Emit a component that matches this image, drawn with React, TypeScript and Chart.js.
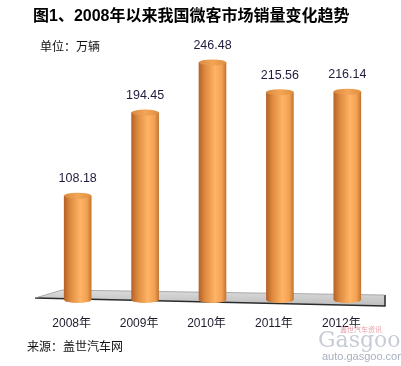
import React, { useEffect, useRef } from "react";
import { Chart, registerables } from "chart.js";

Chart.register(...registerables);

const categories = ["2008年", "2009年", "2010年", "2011年", "2012年"];
const sales = [108.18, 194.45, 246.48, 215.56, 216.14];
const valueLabels = ["108.18", "194.45", "246.48", "215.56", "216.14"];
const yMin = 0;
const yMax = 250;

const TITLE = "图1、2008年以来我国微客市场销量变化趋势";
const UNIT = "单位：万辆";
const SOURCE = "来源：盖世汽车网";

const LATIN_CJK = '"Liberation Sans", Arial, "Noto Sans CJK SC", sans-serif';

function barGradient(ctx: CanvasRenderingContext2D, x: number, w: number) {
  const g = ctx.createLinearGradient(x - w / 2, 0, x + w / 2, 0);
  g.addColorStop(0, "#b5622a");
  g.addColorStop(0.22, "#dd8a3e");
  g.addColorStop(0.6, "#ffb466");
  g.addColorStop(0.85, "#f2a052");
  g.addColorStop(1, "#c47632");
  return g;
}

const cylinderPlugin = {
  id: "cylinder",
  beforeDatasetsDraw(chart: any) {
    const { ctx, chartArea } = chart;
    const l = chartArea.left;
    const r = chartArea.right;
    const b = chartArea.bottom;
    ctx.save();
    const g = ctx.createLinearGradient(0, b - 10, 0, b + 6);
    g.addColorStop(0, "#dcdcdc");
    g.addColorStop(1, "#bdbdbd");
    ctx.beginPath();
    ctx.moveTo(l - 9, b - 2);
    ctx.lineTo(l + 18, b - 10);
    ctx.lineTo(r + 4, b - 5);
    ctx.lineTo(r + 4, b + 6);
    ctx.closePath();
    ctx.fillStyle = g;
    ctx.fill();
    ctx.beginPath();
    ctx.moveTo(l - 9, b - 2);
    ctx.lineTo(r + 4, b + 6);
    ctx.lineTo(r + 4, b - 5);
    ctx.strokeStyle = "#2a2a2a";
    ctx.lineWidth = 1.5;
    ctx.stroke();
    ctx.beginPath();
    ctx.moveTo(l - 9, b - 2);
    ctx.lineTo(l + 18, b - 10);
    ctx.lineTo(r + 4, b - 5);
    ctx.strokeStyle = "#9a9a9a";
    ctx.lineWidth = 0.8;
    ctx.stroke();
    ctx.restore();
  },
  afterDatasetsDraw(chart: any) {
    const { ctx } = chart;
    const meta = chart.getDatasetMeta(0);
    ctx.save();
    meta.data.forEach((el: any, i: number) => {
      const { x, y, base, width } = el.getProps(["x", "y", "base", "width"], true);
      if (![x, y, base, width].every((v) => Number.isFinite(v))) return;
      const rx = width / 2;
      ctx.beginPath();
      ctx.ellipse(x, base, rx, 3, 0, 0, Math.PI);
      ctx.fillStyle = barGradient(ctx, x, width);
      ctx.fill();
      const cg = ctx.createLinearGradient(x - rx, 0, x + rx, 0);
      cg.addColorStop(0, "#d88a40");
      cg.addColorStop(0.5, "#f3a456");
      cg.addColorStop(1, "#e0903f");
      ctx.beginPath();
      ctx.ellipse(x, y, rx, 3, 0, 0, Math.PI * 2);
      ctx.fillStyle = cg;
      ctx.fill();
      ctx.fillStyle = "#1e1c3c";
      ctx.font = "12.5px " + LATIN_CJK;
      ctx.textAlign = "center";
      ctx.textBaseline = "middle";
      ctx.fillText(valueLabels[i], x, y - 17);
    });
    ctx.restore();
  },
};

export default function App() {
  const ref = useRef<HTMLCanvasElement | null>(null);

  useEffect(() => {
    if (!ref.current) return;
    const chart = new Chart(ref.current, {
      type: "bar",
      data: {
        labels: categories,
        datasets: [
          {
            data: sales,
            barThickness: 27,
            borderWidth: 0,
            backgroundColor: (c: any) => {
              const ch = c.chart;
              const xs = ch.scales && ch.scales.x;
              if (!xs || c.dataIndex === undefined) return "#f0a050";
              const x = xs.getPixelForValue(c.dataIndex);
              if (!Number.isFinite(x)) return "#f0a050";
              return barGradient(ch.ctx, x, 27);
            },
          },
        ],
      },
      options: {
        responsive: false,
        animation: false,
        devicePixelRatio: 1,
        layout: { padding: { left: 44, right: 20, top: 59, bottom: 36 } },
        plugins: {
          legend: { display: false },
          tooltip: { enabled: false },
          title: { display: false },
        },
        scales: {
          y: { display: false, min: yMin, max: yMax },
          x: {
            grid: { display: false, drawTicks: false },
            border: { display: false },
            ticks: {
              color: "#1c1c2c",
              font: { size: 12, family: LATIN_CJK },
              padding: 16,
              labelOffset: -6,
            },
            afterFit: (s: any) => {
              s.height = 30;
            },
          },
        },
      },
      plugins: [cylinderPlugin],
    });
    return () => chart.destroy();
  }, []);

  const cjk = LATIN_CJK;

  return (
    <div
      style={{
        position: "absolute",
        left: 0,
        top: 0,
        width: 401,
        height: 366,
        background: "#ffffff",
        overflow: "hidden",
      }}
    >
      <canvas ref={ref} width={401} height={366} style={{ position: "absolute", left: 0, top: 0, width: 401, height: 366 }} />
      <div style={{ position: "absolute", left: 33, top: 7, fontFamily: cjk, fontWeight: 700, fontSize: 16, lineHeight: "18px", color: "#000", whiteSpace: "nowrap" }}>
        {TITLE}
      </div>
      <div style={{ position: "absolute", left: 40, top: 40, fontFamily: cjk, fontSize: 12, lineHeight: "14px", color: "#111", whiteSpace: "nowrap" }}>
        {UNIT}
      </div>
      <div style={{ position: "absolute", left: 27, top: 340, fontFamily: cjk, fontSize: 12, lineHeight: "14px", color: "#111", whiteSpace: "nowrap" }}>
        {SOURCE}
      </div>
      <div style={{ position: "absolute", left: 340, top: 326, fontFamily: cjk, fontSize: 7, lineHeight: "8px", color: "#e8a0a8", whiteSpace: "nowrap" }}>
        盖世汽车资讯
      </div>
      <div style={{ position: "absolute", left: 318, top: 329, fontFamily: '"DejaVu Serif", serif', fontSize: 22, lineHeight: "22px", color: "#c8ccd6", whiteSpace: "nowrap" }}>
        Gasgoo
      </div>
      <div style={{ position: "absolute", left: 322, top: 350, fontFamily: '"Liberation Sans", Arial, sans-serif', fontSize: 11, lineHeight: "12px", color: "#a8b0c0", whiteSpace: "nowrap" }}>
        auto.gasgoo.com
      </div>
    </div>
  );
}
